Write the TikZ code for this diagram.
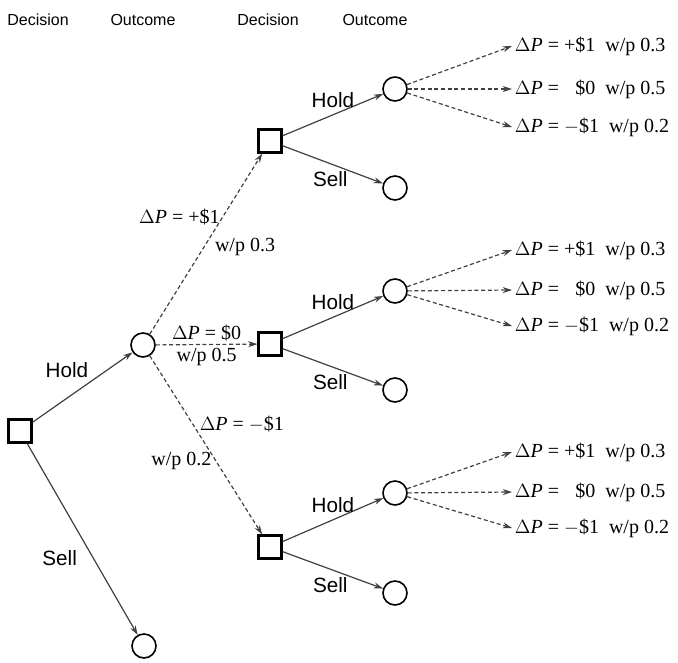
\documentclass[tikz,border=0pt]{standalone}
\usepackage{fontspec}
\setmainfont{Liberation Serif}
\newfontfamily\arialfont{Liberation Sans}
\usetikzlibrary{arrows.meta}
\newcommand{\dP}{$\Delta$\textit{P}}
\begin{document}
\begin{tikzpicture}[x=0.75pt,y=-0.75pt,
	dec/.style={draw,rectangle,line width=1.8pt,minimum size=17pt,inner sep=0pt},
	outc/.style={draw,circle,line width=1.2pt,minimum size=18pt,inner sep=0pt},
	act/.style={draw=black!75,line width=0.9pt,-{Stealth[length=7pt,width=4.5pt]}},
	chance/.style={act,dash pattern=on 3pt off 2pt},
	head/.style={font=\arialfont\fontsize{12}{14}\selectfont},
	word/.style={font=\arialfont\fontsize{15.5}{17}\selectfont,inner sep=2pt},
	val/.style={font=\fontsize{15}{17}\selectfont,inner sep=2pt},
	res/.style={val,anchor=west}]
	\useasboundingbox (0,0) rectangle (678,662);
	\node[head] at (38,20) {Decision};
	\node[head] at (143,20) {Outcome};
	\node[head] at (268,20) {Decision};
	\node[head] at (375,20) {Outcome};

	\node[dec] (d0) at (20,431) {};
	\node[outc] (c1) at (143,345) {};
	\node[outc] (c2) at (144,646) {};
	\draw[act] (d0) -- node[word,pos=0.45,above,xshift=-8pt,yshift=7pt] {Hold} (c1);
	\draw[act] (d0) -- node[word,pos=0.6,left,xshift=-10pt] {Sell} (c2);

	\node[dec] (d1) at (270,141) {};
	\node[dec] (d2) at (270,344) {};
	\node[dec] (d3) at (270,547) {};
	\draw[chance] (c1) -- node[val,pos=0.65,left] {\dP{} = +\$1} node[val,pos=0.48,right,xshift=6pt] {w/p 0.3} (d1);
	\draw[chance] (c1) -- node[val,above] {\dP{} = \$0} node[val,below] {w/p 0.5} (d2);
	\draw[chance] (c1) -- node[val,pos=0.38,right,xshift=3pt] {\dP{} = $-$\$1} node[val,pos=0.59,left,xshift=-1pt] {w/p 0.2} (d3);

	% first decision after a price move
	\node[outc] (h1) at (395,89) {};
	\node[outc] (s1) at (395,188) {};
	\draw[act] (d1) -- node[word,above,yshift=3pt] {Hold} (h1);
	\draw[act] (d1) -- node[word,pos=0.6,below left,xshift=6pt] {Sell} (s1);
	\node[res] (r11) at (512,46) {\dP{} = +\$1~~w/p 0.3};
	\node[res] (r12) at (512,89) {\dP{} = \hphantom{+}\$0~~w/p 0.5};
	\node[res] (r13) at (512,127) {\dP{} = $-$\$1~~w/p 0.2};
	\draw[chance] (h1) -- (r11.west);
	\draw[chance] (h1) -- (r12.west);
	\draw[chance] (h1) -- (r13.west);

	% second
	\node[outc] (h2) at (395,291) {};
	\node[outc] (s2) at (395,390) {};
	\draw[act] (d2) -- node[word,above,yshift=3pt] {Hold} (h2);
	\draw[act] (d2) -- node[word,pos=0.6,below left,xshift=6pt] {Sell} (s2);
	\node[res] (r21) at (512,250) {\dP{} = +\$1~~w/p 0.3};
	\node[res] (r22) at (512,290) {\dP{} = \hphantom{+}\$0~~w/p 0.5};
	\node[res] (r23) at (512,326) {\dP{} = $-$\$1~~w/p 0.2};
	\draw[chance] (h2) -- (r21.west);
	\draw[chance] (h2) -- (r22.west);
	\draw[chance] (h2) -- (r23.west);

	% third
	\node[outc] (h3) at (395,493) {};
	\node[outc] (s3) at (395,593) {};
	\draw[act] (d3) -- node[word,above,yshift=3pt] {Hold} (h3);
	\draw[act] (d3) -- node[word,pos=0.6,below left,xshift=6pt] {Sell} (s3);
	\node[res] (r31) at (512,452) {\dP{} = +\$1~~w/p 0.3};
	\node[res] (r32) at (512,492) {\dP{} = \hphantom{+}\$0~~w/p 0.5};
	\node[res] (r33) at (512,528) {\dP{} = $-$\$1~~w/p 0.2};
	\draw[chance] (h3) -- (r31.west);
	\draw[chance] (h3) -- (r32.west);
	\draw[chance] (h3) -- (r33.west);
\end{tikzpicture}
\end{document}
